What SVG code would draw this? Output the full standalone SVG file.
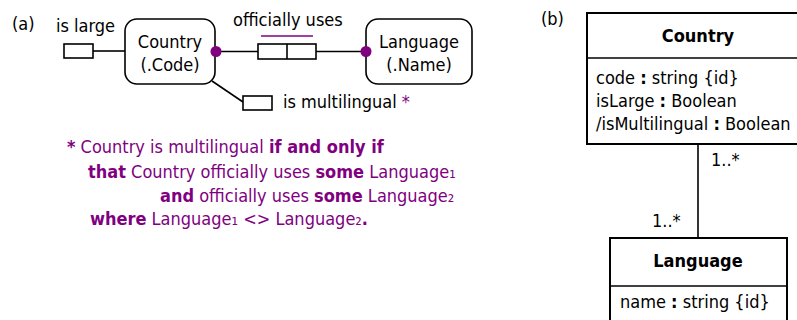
<svg xmlns="http://www.w3.org/2000/svg" width="797" height="320" viewBox="0 0 797 320">
<style>
text{font-family:"DejaVu Sans Condensed","DejaVu Sans",sans-serif;font-stretch:condensed;font-size:18px;fill:#000}
.p{fill:#800080}
.b{font-weight:bold}
.ln{stroke:#000;stroke-width:1.6;fill:none}
.box{stroke:#000;stroke-width:1.6;fill:#fff}
.uml{stroke:#000;stroke-width:2;fill:#fff}
.dot{fill:#800080}
</style>
<rect width="797" height="320" fill="#fff"/>
<text x="12" y="30">(a)</text>
<text x="56" y="32">is large</text>
<text x="233" y="26">officially uses</text>
<g id="connectors">
<line class="ln" x1="93" y1="51" x2="125" y2="51"/>
<line class="ln" x1="216" y1="51.5" x2="258" y2="51.5"/>
<line class="ln" x1="316" y1="51.5" x2="366" y2="51.5"/>
<line class="ln" x1="212" y1="81" x2="243" y2="102"/>
<line class="ln" x1="698" y1="144" x2="698" y2="238"/>
</g>
<g id="isLarge"><rect class="box" x="64" y="44" width="29" height="14"/></g>
<g id="country"><rect class="box" x="125" y="19" width="90" height="65" rx="12"/>
<text x="170" y="48" text-anchor="middle">Country</text>
<text x="170" y="71" text-anchor="middle">(.Code)</text></g>
<g id="officiallyUses"><rect class="box" x="258" y="44" width="58" height="15"/>
<line class="ln" x1="287" y1="44" x2="287" y2="59"/>
<line x1="261" y1="36" x2="313" y2="36" stroke="#800080" stroke-width="1.6"/></g>
<g id="language"><rect class="box" x="366" y="19" width="106" height="65" rx="12"/>
<text x="419" y="48" text-anchor="middle">Language</text>
<text x="419" y="71" text-anchor="middle">(.Name)</text></g>
<circle class="dot" cx="216" cy="51.5" r="5.5"/>
<circle class="dot" cx="366" cy="51.5" r="5.5"/>
<g id="isMultilingual"><rect class="box" x="243" y="96" width="29" height="14"/>
<text x="283" y="108">is multilingual <tspan class="p">*</tspan></text></g>
<g id="note">
<text x="67" y="153" class="p"><tspan class="b">*</tspan> Country is multilingual <tspan class="b">if and only if</tspan></text>
<text x="88" y="178" class="p"><tspan class="b">that</tspan> Country officially uses <tspan class="b">some</tspan> Language₁</text>
<text x="160" y="202" class="p"><tspan class="b">and</tspan> officially uses <tspan class="b">some</tspan> Language₂</text>
<text x="90" y="225" class="p"><tspan class="b">where</tspan> Language₁ &lt;&gt; Language₂<tspan class="b">.</tspan></text>
</g>
<text x="541" y="25">(b)</text>
<g id="umlCountry"><rect class="uml" x="587" y="13" width="220" height="131"/>
<line class="ln" x1="587" y1="58" x2="797" y2="58" stroke-width="2"/>
<text x="698" y="42" text-anchor="middle" class="b">Country</text>
<text x="596" y="84">code <tspan class="b">:</tspan> string {id}</text>
<text x="596" y="107">isLarge <tspan class="b">:</tspan> Boolean</text>
<text x="596" y="130">/isMultilingual <tspan class="b">:</tspan> Boolean</text></g>
<text x="711" y="166">1..*</text>
<text x="652" y="227">1..*</text>
<g id="umlLanguage"><rect class="uml" x="610" y="238" width="177" height="100"/>
<line class="ln" x1="610" y1="286" x2="787" y2="286" stroke-width="2"/>
<text x="698" y="267" text-anchor="middle" class="b">Language</text>
<text x="620" y="308">name <tspan class="b">:</tspan> string {id}</text></g>
</svg>
